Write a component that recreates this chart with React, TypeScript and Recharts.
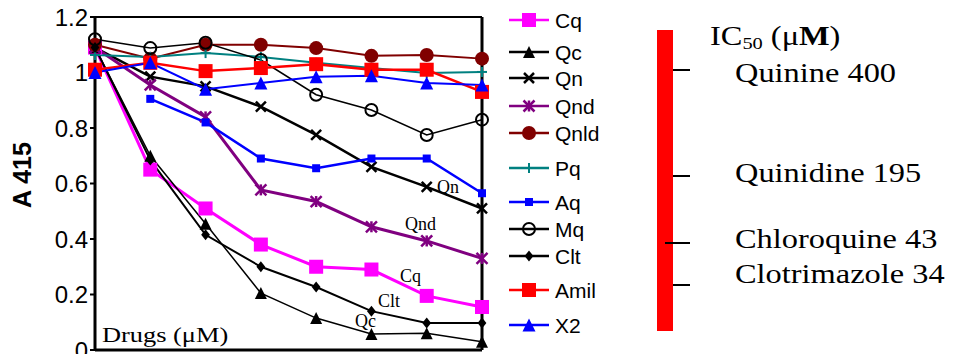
import React from 'react';
import { LineChart, Line, XAxis, YAxis, ReferenceLine, Legend } from 'recharts';

// dose steps (8 concentrations, evenly spaced on the axis)
const doses = [0, 1, 2, 3, 4, 5, 6, 7];

const cq = [1.09, 0.65, 0.51, 0.38, 0.3, 0.29, 0.195, 0.155];
const qc = [1.09, 0.7, 0.455, 0.205, 0.115, 0.058, 0.06, 0.03];
const qn = [1.09, 0.985, 0.95, 0.877, 0.775, 0.66, 0.588, 0.51];
const qnd = [1.09, 0.955, 0.84, 0.577, 0.535, 0.444, 0.393, 0.33];
const qnld = [1.1, 1.05, 1.1, 1.1, 1.088, 1.06, 1.063, 1.05];
const pq = [1.063, 1.056, 1.07, 1.056, 1.035, 1.016, 0.998, 1.002];
const aq = [null, 0.905, 0.82, 0.69, 0.655, 0.69, 0.69, 0.565];
const mq = [1.12, 1.088, 1.107, 1.045, 0.92, 0.865, 0.775, 0.83];
const clt = [1.09, 0.685, 0.415, 0.3, 0.227, 0.14, 0.097, 0.097];
const amil = [1.01, 1.035, 1.005, 1.016, 1.03, 1.01, 1.01, 0.93];
const x2 = [1.0, 1.035, 0.94, 0.962, 0.985, 0.988, 0.962, 0.955];

const yTicks = [0, 0.2, 0.4, 0.6, 0.8, 1, 1.2];

const icDrugs = ['Quinine', 'Quinidine', 'Chloroquine', 'Clotrimazole'];
const icValues = [400, 195, 43, 34];

type Shape = 'square' | 'triangle' | 'cross' | 'star' | 'circle' | 'plus' | 'ring' | 'diamond';

const series: { name: string; data: (number | null)[]; color: string; shape: Shape; size: number; width: number }[] = [
  { name: 'Cq', data: cq, color: '#ff00ff', shape: 'square', size: 14, width: 3 },
  { name: 'Qc', data: qc, color: '#000000', shape: 'triangle', size: 12, width: 1.5 },
  { name: 'Qn', data: qn, color: '#000000', shape: 'cross', size: 10, width: 2.5 },
  { name: 'Qnd', data: qnd, color: '#800080', shape: 'star', size: 11, width: 3 },
  { name: 'Qnld', data: qnld, color: '#800000', shape: 'circle', size: 14, width: 2 },
  { name: 'Pq', data: pq, color: '#008080', shape: 'plus', size: 10, width: 2 },
  { name: 'Aq', data: aq, color: '#0000ff', shape: 'square', size: 8, width: 2.5 },
  { name: 'Mq', data: mq, color: '#000000', shape: 'ring', size: 12, width: 1.5 },
  { name: 'Clt', data: clt, color: '#000000', shape: 'diamond', size: 11, width: 2 },
  { name: 'Amil', data: amil, color: '#ff0000', shape: 'square', size: 14, width: 2.5 },
  { name: 'X2', data: x2, color: '#0000ff', shape: 'triangle', size: 13, width: 2 },
];

const rows = doses.map((d, i) => {
  const row: Record<string, number | null> = { dose: d };
  series.forEach(s => { row[s.name] = s.data[i]; });
  return row;
});

const Marker = ({ shape, cx, cy, color, size }: { shape: Shape; cx: number; cy: number; color: string; size: number }) => {
  const h = size / 2;
  switch (shape) {
    case 'square':
      return <rect x={cx - h} y={cy - h} width={size} height={size} fill={color} />;
    case 'triangle':
      return <polygon points={`${cx},${cy - h} ${cx + h},${cy + h} ${cx - h},${cy + h}`} fill={color} />;
    case 'cross':
      return (
        <g stroke={color} strokeWidth={2.5}>
          <line x1={cx - h} y1={cy - h} x2={cx + h} y2={cy + h} />
          <line x1={cx - h} y1={cy + h} x2={cx + h} y2={cy - h} />
        </g>
      );
    case 'star':
      return (
        <g stroke={color} strokeWidth={2.5}>
          <line x1={cx - h} y1={cy - h} x2={cx + h} y2={cy + h} />
          <line x1={cx - h} y1={cy + h} x2={cx + h} y2={cy - h} />
          <line x1={cx} y1={cy - h} x2={cx} y2={cy + h} />
        </g>
      );
    case 'circle':
      return <circle cx={cx} cy={cy} r={h} fill={color} />;
    case 'plus':
      return (
        <g stroke={color} strokeWidth={2}>
          <line x1={cx - h} y1={cy} x2={cx + h} y2={cy} />
          <line x1={cx} y1={cy - h} x2={cx} y2={cy + h} />
        </g>
      );
    case 'ring':
      return <circle cx={cx} cy={cy} r={h} fill="none" stroke={color} strokeWidth={2} />;
    case 'diamond':
      return <polygon points={`${cx},${cy - h} ${cx + h * 0.8},${cy} ${cx},${cy + h} ${cx - h * 0.8},${cy}`} fill={color} />;
  }
  return null;
};

const legendRowY = [20, 52, 78, 106, 133, 168, 202, 229, 256, 290, 325];

const LegendBox = () => (
  <svg width={130} height={354} style={{ display: 'block' }}>
    {series.map((s, i) => (
      <g key={s.name}>
        <line x1={9} y1={legendRowY[i]} x2={49} y2={legendRowY[i]} stroke={s.color} strokeWidth={2.5} />
        <Marker shape={s.shape} cx={29} cy={legendRowY[i]} color={s.color} size={s.size} />
        <text x={55} y={legendRowY[i]} dominantBaseline="central" fontFamily="'Liberation Sans', Arial, sans-serif" fontSize={21} fill="#000">
          {s.name}
        </text>
      </g>
    ))}
  </svg>
);

const serif = "'Liberation Serif', 'Times New Roman', serif";

const Stretched = ({ x, y, size, children }: { x: number; y: number; size: number; children: React.ReactNode }) => (
  <text transform={`translate(${x},${y}) scale(1.2,1)`} fontFamily={serif} fontSize={size} fill="#000">
    {children}
  </text>
);

const icTickY = [70, 176, 243, 285];
const icTextY = [82, 182, 248, 283];

const Overlay = () => (
  <svg width={962} height={354} style={{ position: 'absolute', left: 0, top: 0, pointerEvents: 'none' }}>
    <text transform="translate(31,175) rotate(-90)" textAnchor="middle" fontFamily="'Liberation Sans', Arial, sans-serif" fontWeight="bold" fontSize={25} fill="#000">
      A 415
    </text>
    <Stretched x={102} y={342} size={22}>Drugs (μM)</Stretched>
    <text fontFamily={serif} fontSize={18} fill="#000">
      <tspan x={437} y={193}>Qn</tspan>
      <tspan x={405} y={230}>Qnd</tspan>
      <tspan x={400} y={282}>Cq</tspan>
      <tspan x={378} y={307}>Clt</tspan>
      <tspan x={355} y={327}>Qc</tspan>
    </text>
    <rect x={657} y={30} width={16} height={301} fill="#ff0000" />
    {icTickY.map((y, i) => (
      <line key={i} x1={i === 2 ? 665 : 673} y1={y} x2={690} y2={y} stroke="#000" strokeWidth={2} />
    ))}
    <Stretched x={710} y={45} size={27}>
      IC<tspan fontSize={17} dy={4}>50</tspan>
      <tspan dy={-4}> (μ</tspan>
      <tspan fontWeight="bold">M</tspan>)
    </Stretched>
    {icDrugs.map((d, i) => (
      <Stretched key={d} x={735} y={icTextY[i]} size={27}>{`${d} ${icValues[i]}`}</Stretched>
    ))}
  </svg>
);

export default function App() {
  return (
    <div style={{ position: 'absolute', left: 0, top: 0, width: 962, height: 354, background: '#fff' }}>
      <LineChart width={962} height={354} data={rows} margin={{ top: 17, right: 480, bottom: 0, left: 0 }}>
        <XAxis
          type="number"
          dataKey="dose"
          domain={[0, 7]}
          ticks={doses}
          tick={false}
          tickSize={6}
          height={4}
          axisLine={{ stroke: '#000', strokeWidth: 3 }}
          tickLine={{ stroke: '#000', strokeWidth: 2 }}
        />
        <YAxis
          domain={[0, 1.2]}
          ticks={yTicks}
          width={95}
          tickSize={5}
          tickMargin={2}
          interval={0}
          axisLine={{ stroke: '#000', strokeWidth: 3 }}
          tickLine={{ stroke: '#000', strokeWidth: 2 }}
          tick={{ fill: '#000', fontSize: 24, fontFamily: "'Liberation Sans', Arial, sans-serif" }}
        />
        <ReferenceLine y={1.2} stroke="#000" strokeWidth={2} />
        <ReferenceLine x={7} stroke="#000" strokeWidth={3} />
        {series.map(s => (
          <Line
            key={s.name}
            type="linear"
            dataKey={s.name}
            stroke={s.color}
            strokeWidth={s.width}
            isAnimationActive={false}
            connectNulls={false}
            dot={(p: any) =>
              p.cx == null || p.cy == null || p.value == null ? (
                <g key={`${s.name}-${p.index}`} />
              ) : (
                <Marker key={`${s.name}-${p.index}`} shape={s.shape} cx={p.cx} cy={p.cy} color={s.color} size={s.size} />
              )
            }
            activeDot={false}
          />
        ))}
        <Legend
          layout="vertical"
          align="center"
          verticalAlign="middle"
          wrapperStyle={{ left: 500, top: 0, width: 130, height: 354 }}
          content={() => <LegendBox />}
        />
      </LineChart>
      <Overlay />
    </div>
  );
}
